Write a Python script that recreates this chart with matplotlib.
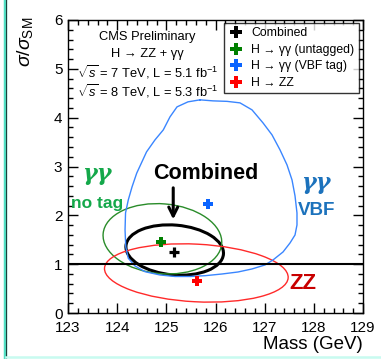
import matplotlib
matplotlib.use('Agg')
import matplotlib.pyplot as plt
from matplotlib.patches import Ellipse
from matplotlib.lines import Line2D

plt.rcParams['font.family'] = ['Liberation Sans', 'DejaVu Sans']
plt.rcParams['mathtext.fontset'] = 'custom'
plt.rcParams['mathtext.rm'] = 'Liberation Sans'
plt.rcParams['mathtext.it'] = 'Liberation Sans:italic'
plt.rcParams['mathtext.bf'] = 'Liberation Sans:bold'

# best-fit points
channels = ['Combined', 'H → γγ (untagged)', 'H → γγ (VBF tag)', 'H → ZZ']
best_mass = [125.16, 124.90, 125.84, 125.62]
best_mu = [1.24, 1.45, 2.23, 0.66]
marker_colors = ['black', '#008000', '#0a64ff', '#ff0000']

# 68% contours that look like ellipses: combined, gg untagged, ZZ
ell_mass = [125.17, 124.92, 125.61]
ell_mu = [1.29, 1.52, 0.82]
ell_width = [1.99, 2.42, 3.74]
ell_height = [1.02, 1.43, 1.18]
ell_angle = [-5, -5, -3]
ell_colors = ['black', '#2a8c2a', '#ff2a2a']
ell_lw = [2.2, 1.0, 1.0]

# gg VBF contour
vbf_mass = [125.685, 125.949, 126.234, 126.498, 126.742, 126.966, 127.149, 127.312,
            127.454, 127.556, 127.617, 127.657, 127.657, 127.617, 127.515, 127.373,
            127.169, 127.006, 126.742, 126.457, 126.132, 125.786, 125.481, 125.176,
            124.871, 124.566, 124.363, 124.226, 124.175, 124.160, 124.170, 124.226,
            124.302, 124.397, 124.597, 124.769, 124.938, 125.074, 125.217, 125.440]
vbf_mu = [4.365, 4.344, 4.334, 4.303, 4.160, 3.893, 3.648, 3.340,
          3.033, 2.725, 2.398, 2.049, 1.803, 1.598, 1.434, 1.250,
          1.086, 0.984, 0.902, 0.840, 0.799, 0.764, 0.748, 0.748,
          0.779, 0.846, 0.963, 1.121, 1.352, 1.700, 2.050, 2.316,
          2.582, 2.863, 3.299, 3.545, 3.750, 4.016, 4.221, 4.324]

fig = plt.figure(figsize=(3.81, 3.59), dpi=100)
ax = fig.add_axes([0.1785, 0.1281, 0.7743, 0.8162])

ax.plot(vbf_mass + vbf_mass[:1], vbf_mu + vbf_mu[:1], color='#3a86ff', lw=1.0,
        solid_joinstyle='round')
for m, mu, w, h, a, c, lw in zip(ell_mass, ell_mu, ell_width, ell_height,
                                  ell_angle, ell_colors, ell_lw):
    ax.add_patch(Ellipse((m, mu), w, h, angle=a, facecolor='none',
                         edgecolor=c, lw=lw))

ax.axhline(1, color='black', lw=1.5)

for i in range(4):
    if i == 0:
        ax.plot(best_mass[i], best_mu[i], marker='+', ms=7, mew=2.3,
                color=marker_colors[i], ls='none')
    else:
        ax.plot(best_mass[i], best_mu[i], marker='P', ms=7, mew=0,
                color=marker_colors[i], ls='none')

# annotations
ax.text(125.80, 2.85, 'Combined', fontsize=15.5, fontweight='bold',
        ha='center', va='center')
ax.annotate('', xy=(125.14, 1.86), xytext=(125.14, 2.62),
            arrowprops=dict(arrowstyle='->', lw=2.2, color='black',
                            mutation_scale=16))
ax.text(123.59, 2.85, 'γγ', fontsize=16, fontweight='bold', style='italic',
        color='#14a84a', ha='center', va='center', family=['DejaVu Serif'])
ax.text(123.60, 2.25, 'no tag', fontsize=12.5, fontweight='bold',
        color='#14a84a', ha='center', va='center')
ax.text(128.04, 2.66, 'γγ', fontsize=16, fontweight='bold', style='italic',
        color='#1c72bc', ha='center', va='center', family=['DejaVu Serif'])
ax.text(128.06, 2.09, 'VBF', fontsize=13.5, fontweight='bold',
        color='#1c72bc', ha='center', va='center')
ax.text(127.78, 0.61, 'ZZ', fontsize=16, fontweight='bold',
        color='#c80000', ha='center', va='center')

info = ['CMS Preliminary', 'H → ZZ + γγ',
        r'$\sqrt{s}$ = 7 TeV, L = 5.1 fb$^{-1}$',
        r'$\sqrt{s}$ = 8 TeV, L = 5.3 fb$^{-1}$']
info_y = [5.66, 5.31, 4.93, 4.55]
for t, y in zip(info, info_y):
    ax.text(124.62, y, t, fontsize=9.3, ha='center', va='center')

handles = [Line2D([], [], marker='P', ms=8, mew=0, color=c, ls='none')
           for c in marker_colors]
leg = ax.legend(handles, channels, loc='upper right',
                bbox_to_anchor=(0.986, 0.99), borderaxespad=0, fontsize=8.8,
                frameon=True, fancybox=False, edgecolor='black',
                handlelength=1.3, handletextpad=0.6, borderpad=0.35,
                labelspacing=0.38)
leg.get_frame().set_linewidth(1.0)

ax.set_xlim(123, 129)
ax.set_ylim(0, 6)
ax.set_xticks([123, 124, 125, 126, 127, 128, 129])
ax.set_yticks([0, 1, 2, 3, 4, 5, 6])
ax.set_xticks([123 + 0.2 * k for k in range(31)], minor=True)
ax.set_yticks([0.2 * k for k in range(31)], minor=True)
ax.tick_params(which='both', direction='in', top=True, right=True,
               labelsize=11, width=1)
ax.tick_params(which='major', length=7, pad=4)
ax.tick_params(which='minor', length=3.5)
ax.tick_params(axis='x', pad=6)
for s in ax.spines.values():
    s.set_linewidth(1)

fig.text(0.066, 0.953, r'$\sigma/\sigma_{\rm SM}$', rotation=90,
         ha='center', va='top', fontsize=14)
fig.text(0.953, 0.039, 'Mass (GeV)', ha='right', va='center', fontsize=13.5)

# frame lines of the original screenshot
fig.add_artist(Line2D([4.5 / 381, 4.5 / 381], [0, 1], color='#52e0c4', lw=2.5))
fig.add_artist(Line2D([6.3 / 381, 6.3 / 381], [0, 1], color='#1f3f3a', lw=0.8))
fig.add_artist(Line2D([6 / 381, 1], [2 / 359, 2 / 359], color='#c8fbf0', lw=1.8))

fig.savefig('out.png', dpi=100)
